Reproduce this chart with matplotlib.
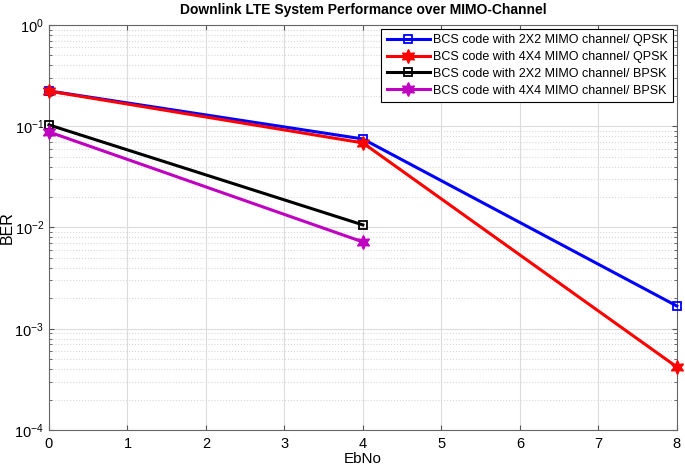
import numpy as np
import matplotlib.pyplot as plt
from matplotlib.ticker import LogLocator, NullFormatter

# data
ebno_qpsk = [0, 4, 8]
ber_2x2_qpsk = [0.223, 0.0748, 0.00168]
ber_4x4_qpsk = [0.222, 0.0684, 0.00042]
ebno_bpsk = [0, 4]
ber_2x2_bpsk = [0.103, 0.0106]
ber_4x4_bpsk = [0.0878, 0.0072]

labels = ['BCS code with 2X2 MIMO channel/ QPSK',
          'BCS code with 4X4 MIMO channel/ QPSK',
          'BCS code with 2X2 MIMO channel/ BPSK',
          'BCS code with 4X4 MIMO channel/ BPSK']

plt.rcParams['font.family'] = ['Liberation Sans', 'DejaVu Sans']
fig = plt.figure(figsize=(6.85, 4.7), dpi=100)
ax = fig.add_axes([0.0715, 0.085, 0.9165, 0.862])

hexa = (6, 1, 0)
ax.semilogy(ebno_qpsk, ber_2x2_qpsk, color='#0000ff', lw=2.2, marker='s',
            mfc='none', mew=1.3, ms=6, label=labels[0], clip_on=False, zorder=5)
ax.semilogy(ebno_qpsk, ber_4x4_qpsk, color='#ff0000', lw=2.2, marker=hexa,
            ms=10, label=labels[1], clip_on=False, zorder=6)
ax.semilogy(ebno_bpsk, ber_2x2_bpsk, color='black', lw=2.2, marker='s',
            mfc='none', mew=1.3, ms=6, label=labels[2], clip_on=False, zorder=5)
ax.semilogy(ebno_bpsk, ber_4x4_bpsk, color='#c000c0', lw=2.2, marker=hexa,
            ms=10, label=labels[3], clip_on=False, zorder=5)

ax.set_xlim(0, 8)
ax.set_ylim(1e-4, 1)
ax.set_xticks(range(9))
ax.yaxis.set_major_locator(LogLocator(base=10, numticks=10))
ax.yaxis.set_minor_locator(LogLocator(base=10, subs=np.arange(2, 10), numticks=20))
ax.yaxis.set_minor_formatter(NullFormatter())

ax.grid(True, which='major', color='#dcdcdc', lw=0.8, ls='-')
ax.grid(True, which='minor', axis='y', color='#d8d8d8', lw=0.8, ls=':')
ax.set_axisbelow(True)
ax.tick_params(which='both', direction='in', top=True, right=True, colors='#555555',
               labelcolor='black', labelsize=10.5)
ax.tick_params(axis='x', pad=5)
for s in ax.spines.values():
    s.set_color('#666666')

ax.set_xlabel('EbNo', fontsize=11, labelpad=1)
ax.set_ylabel('BER', fontsize=11.5)
ax.yaxis.set_label_coords(-0.054, 0.5)
ax.set_title('Downlink LTE System Performance over MIMO-Channel',
             fontsize=10, fontweight='bold', pad=8)

leg = ax.legend(loc='upper right', fontsize=9, fancybox=False, framealpha=1,
                edgecolor='black', borderpad=0.45, labelspacing=0.38,
                handlelength=3.4, handletextpad=0.25, borderaxespad=0.3)
leg.get_frame().set_linewidth(0.8)

fig.savefig('out.png', dpi=100)
